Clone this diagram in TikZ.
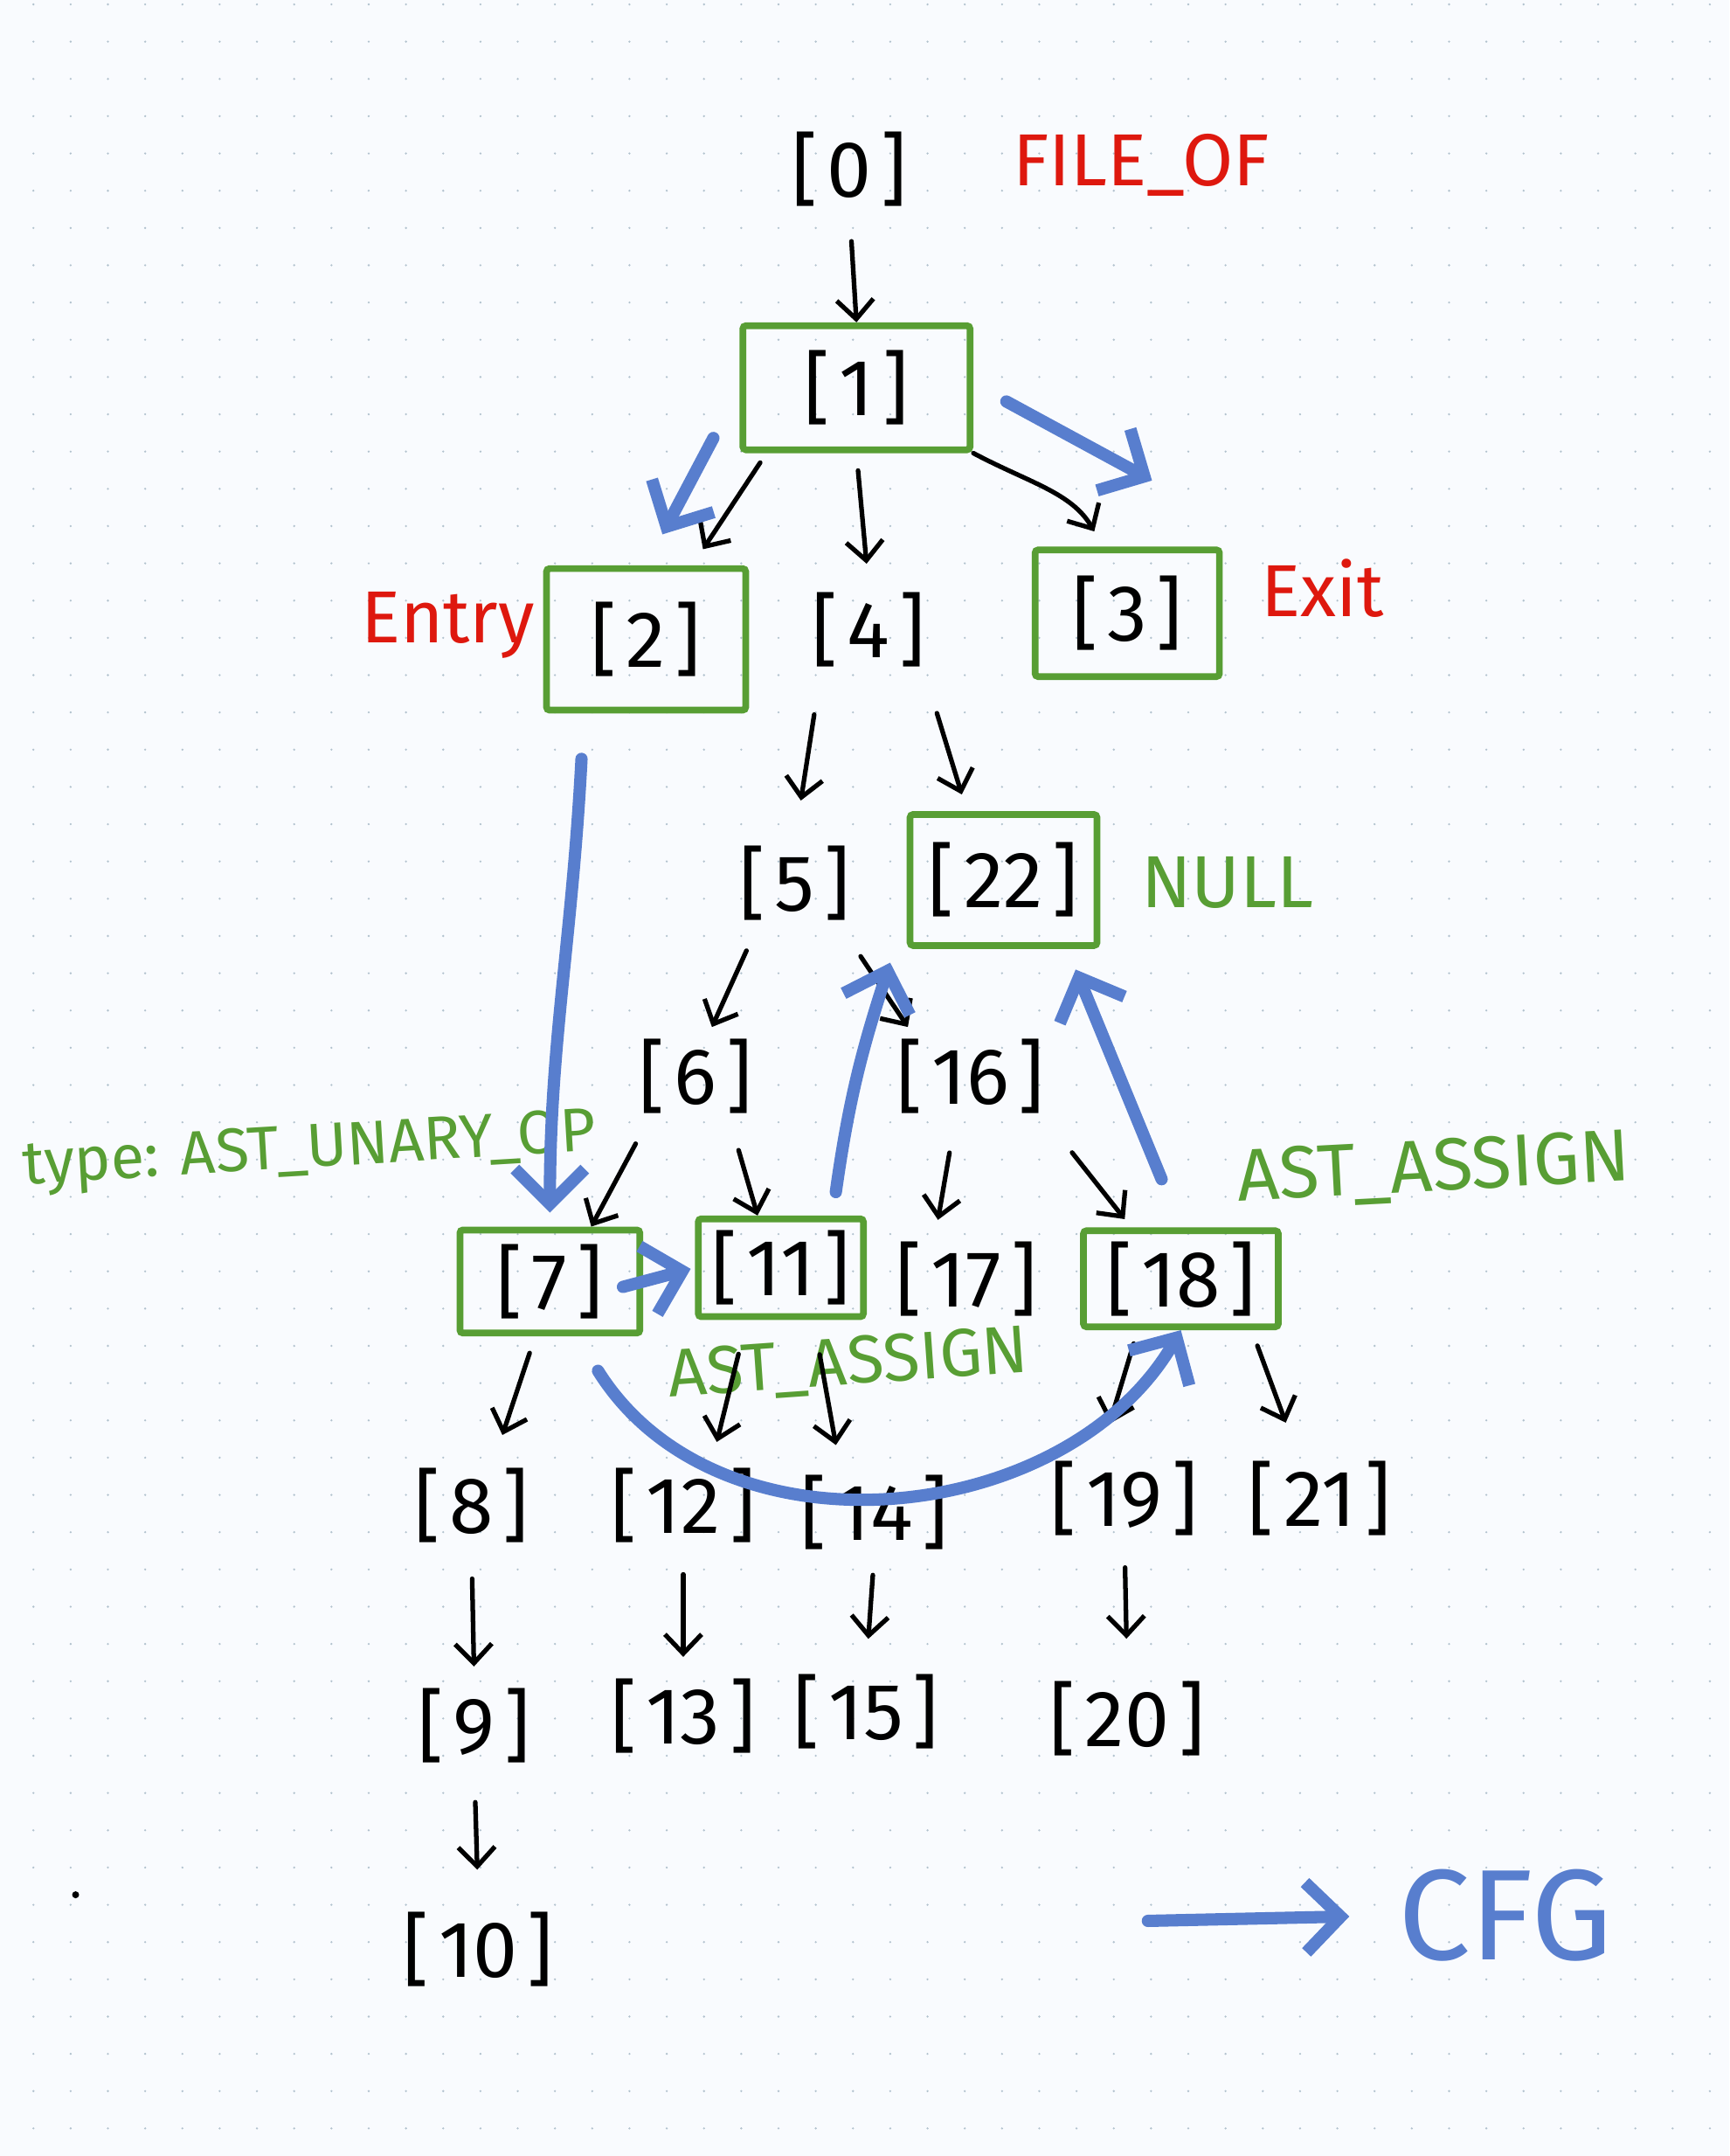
\documentclass[tikz,border=0pt]{standalone}
\usepackage{fontspec}
\setmainfont{Fira Sans}
\usetikzlibrary{calc,arrows.meta}

\definecolor{hwred}{RGB}{222,24,14}
\definecolor{hwgreen}{RGB}{88,158,52}
\definecolor{hwblue}{RGB}{88,126,206}
\definecolor{paper}{RGB}{249,251,254}
\definecolor{griddot}{RGB}{178,194,206}

\newcommand{\idx}[1]{[\kern0.12em#1\kern0.12em]}

\begin{document}
\begin{tikzpicture}[x=0.15739mm, y=-0.15739mm,
    >={Straight Barb[length=2.2mm,width=4.2mm]},
    astnode/.style={font=\fontsize{26}{30}\selectfont, inner sep=0pt,
        minimum width=14.2mm, minimum height=9.4mm},
    visit/.style={astnode, draw=hwgreen, line width=2.2pt, rounded corners=1pt},
    ast/.style={->, line width=1.5pt, line cap=round, line join=round},
    cfg/.style={-{Straight Barb[length=4mm,width=8mm]}, hwblue, line width=4pt,
        line cap=round, line join=round},
    note/.style={font=\fontsize{24}{28}\selectfont, inner sep=0pt}]

    % --- 1. background ---
    \fill[paper] (0,0) rectangle (1258,1568);
    \foreach \i in {0,...,45} {
        \foreach \j in {0,...,57} {
            \fill[griddot] (24.3+27.1*\i, 3.2+27.1*\j) circle (0.13mm);
        }
    }
    \useasboundingbox (0,0) rectangle (1258,1568);
    \fill (55,1378) circle (0.4mm);

    % --- 2. AST nodes ---
    \node[astnode] (n0) at (618,123) {\idx{0}};
    \node[visit, minimum width=26mm, minimum height=14.2mm] (n1) at (623,282) {\idx{1}};
    \node[visit, minimum width=22.8mm, minimum height=16.2mm] (n2) at (470,465) {\idx{2}};
    \node[astnode] (n4) at (632,458) {\idx{4}};
    \node[visit, minimum width=21.1mm, minimum height=14.5mm] (n3) at (820,446) {\idx{3}};
    \node[astnode] (n5) at (578,642) {\idx{5}};
    \node[visit, minimum width=21.4mm, minimum height=15mm] (n22) at (730,640) {\idx{22}};
    \node[astnode] (n6) at (506,783) {\idx{6}};
    \node[astnode] (n16) at (706,783) {\idx{16}};
    \node[visit, minimum width=20.6mm, minimum height=11.8mm] (n7) at (400,932) {\idx{7}};
    \node[visit, minimum width=18.9mm, minimum height=11.2mm] (n11) at (568,922) {\idx{11}};
    \node[astnode] (n17) at (703,930) {\idx{17}};
    \node[visit, minimum width=22.3mm, minimum height=11mm] (n18) at (859,930) {\idx{18}};
    \node[astnode] (n8) at (343,1095) {\idx{8}};
    \node[astnode] (n12) at (497,1095) {\idx{12}};
    \node[astnode] (n14) at (636,1100) {\idx{14}};
    \node[astnode] (n19) at (818,1090) {\idx{19}};
    \node[astnode] (n21) at (960,1090) {\idx{21}};
    \node[astnode] (n9) at (345,1255) {\idx{9}};
    \node[astnode] (n13) at (497,1248) {\idx{13}};
    \node[astnode] (n15) at (630,1245) {\idx{15}};
    \node[astnode] (n20) at (820,1250) {\idx{20}};
    \node[astnode] (n10) at (348,1418) {\idx{10}};

    % --- 3. labels ---
    \node[note, hwred] (fileof) at (830,120) {FILE\_OF};
    \node[note, hwred] (entry) at (326,455) {Entry};
    \node[note, hwred] (exit) at (962,428) {Exit};
    \node[note, hwgreen] (null) at (893,642) {NULL};
    \node[note, hwgreen, font=\fontsize{20}{24}\selectfont, rotate=3.4] (unary) at (225,838) {type: AST\_UNARY\_OP};
    \node[note, hwgreen, rotate=3] (assignr) at (1043,851) {AST\_ASSIGN};
    \node[note, hwgreen, font=\fontsize{22}{26}\selectfont, rotate=4] (assignm) at (617,993) {AST\_ASSIGN};

    % --- 4. AST edges ---
    \draw[ast, shorten <=3.5mm] (n0.south) -- (n1.north);
    \draw[ast, shorten <=1.3mm, shorten >=2.2mm] (n1.216) -- (n2.58);
    \draw[ast, shorten <=2mm, shorten >=2.8mm] (n1.south) -- (n4.north);
    \draw[ast, shorten >=2mm] (n1.south east) to[out=-28,in=120] (n3.110);
    \draw[ast, shorten <=5mm, shorten >=4.7mm] (n4.221) -- (n5.north);
    \draw[ast, shorten <=5mm, shorten >=2mm] (n4.323) -- (n22.118);
    \draw[ast, shorten <=3.3mm, shorten >=1mm] (n5.229) -- (n6.73);
    \draw[ast, shorten <=4.4mm, shorten >=1.1mm] (n5.317) -- (n16.144);
    \draw[ast, shorten <=3.3mm] (n6.222) -- (n7.53);
    \draw[ast, shorten <=3.8mm] (n6.309) -- (n11.114);
    \draw[ast, shorten <=4mm, shorten >=2mm] (n16.250) -- (n17.127);
    \draw[ast, shorten <=5mm, shorten >=1.2mm] (n16.south east) -- (n18.134);
    \draw[ast, shorten <=2mm, shorten >=3.5mm] (n7.255) -- (n8.63);
    \draw[ast, shorten <=4mm, shorten >=2.6mm] (n11.237) -- (n12.56);
    \draw[ast, shorten <=4mm, shorten >=3mm] (n11.302) -- (n14.129);
    \draw[ast, shorten <=1.6mm, shorten >=4mm] (n18.230) -- (n19.121);
    \draw[ast, shorten <=1.9mm, shorten >=4.2mm] (n18.324) -- (n21.117);
    \foreach \a/\b/\s/\e in {n8/n9/3.6/2, n12/n13/3.1/2, n14/n15/2.4/3.6,
                             n19/n20/3.1/4.4, n9/n10/4/4.4} {
        \draw[ast, shorten <=\s mm, shorten >=\e mm] (\a.south) -- (\b.north);
    }

    % --- 5. CFG edges ---
    \draw[cfg, shorten >=4mm] ($(n1.south west)+(-19,-11)$) -- (n2.north);
    \draw[cfg] ($(n1.east)+(24,10)$) -- ($(n3.north)+(18,-48)$);
    \draw[cfg, shorten >=1.6mm] ($(n2.south)+(-47,33)$) to[out=-93,in=90] (n7.north);
    \draw[cfg, shorten <=-2.4mm, shorten >=0.5mm] (n7.east) -- (n11.west);
    \draw[cfg] ($(n11.north)+(40,-17)$) to[out=82,in=-108] ($(n22.south west)+(-12,10)$);
    \draw[cfg] ($(n7.south)+(35,25)$) to[out=-58,in=-120] (n18.south);
    \draw[cfg] ($(n18.north)+(-14,-35)$) -- ($(n22.south east)+(-18,15)$);

    % --- 6. legend ---
    \node[font=\fontsize{42}{50}\selectfont, hwblue, inner sep=0pt] (cfglabel) at (1095,1393) {CFG};
    \coordinate (legendtail) at (835,1397);
    \draw[cfg, shorten >=5.5mm] (legendtail) -- (cfglabel.west);

\end{tikzpicture}
\end{document}
